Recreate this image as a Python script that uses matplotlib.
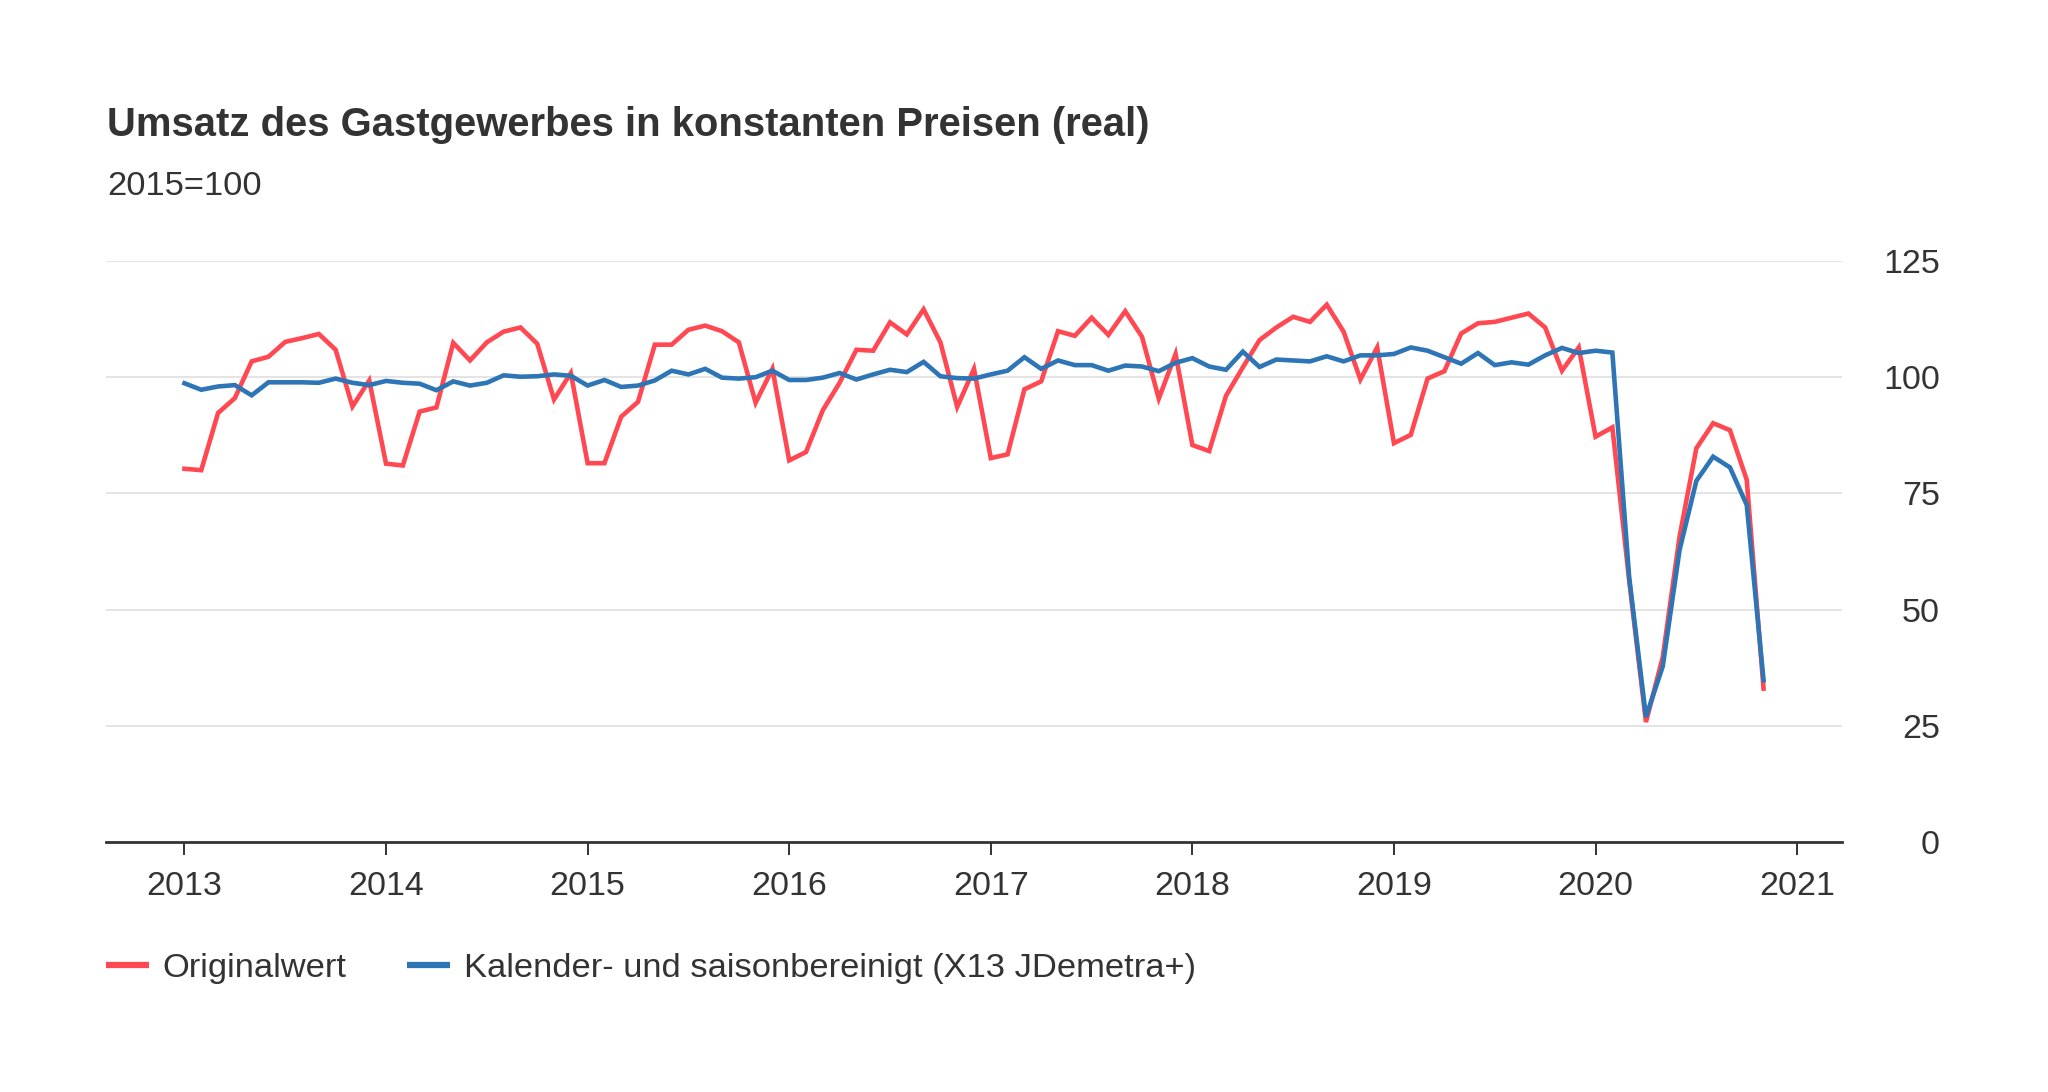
import matplotlib
matplotlib.use("Agg")
import matplotlib.pyplot as plt
import numpy as np

plt.rcParams['font.family'] = ['Liberation Sans', 'DejaVu Sans']

title = "Umsatz des Gastgewerbes in konstanten Preisen (real)"
subtitle = "2015=100"
series_names = ["Originalwert", "Kalender- und saisonbereinigt (X13 JDemetra+)"]
year_labels = ["2013", "2014", "2015", "2016", "2017", "2018", "2019", "2020", "2021"]
y_ticks = [0, 25, 50, 75, 100, 125]

# Monthly values, Jan 2013 .. Nov 2020
original = [
    80.3, 80.0, 92.3, 95.5, 103.4, 104.4, 107.6, 108.4, 109.3, 105.9, 93.7, 99.3,
    81.4, 81.0, 92.6, 93.5, 107.4, 103.6, 107.5, 109.8, 110.7, 107.2, 95.2, 100.9,
    81.5, 81.5, 91.5, 94.7, 107.0, 107.0, 110.2, 111.1, 109.9, 107.5, 94.5, 101.8,
    82.1, 83.9, 92.9, 98.8, 105.9, 105.7, 111.8, 109.2, 114.6, 107.5, 93.6, 101.8,
    82.6, 83.4, 97.4, 99.1, 109.9, 108.9, 112.8, 109.1, 114.2, 108.7, 95.4, 105.0,
    85.4, 84.1, 96.0, 102.1, 108.0, 110.7, 113.0, 111.9, 115.6, 109.8, 99.5, 106.4,
    85.8, 87.6, 99.7, 101.3, 109.4, 111.6, 111.9, 112.8, 113.7, 110.7, 101.4, 106.4,
    87.2, 89.2, 56.3, 25.8, 39.8, 65.7, 84.7, 90.1, 88.6, 77.9, 33.0,
]
adjusted = [
    98.7, 97.3, 98.0, 98.3, 96.1, 98.9, 98.9, 98.9, 98.8, 99.7, 98.8, 98.3,
    99.2, 98.8, 98.6, 97.2, 99.1, 98.2, 98.8, 100.4, 100.1, 100.2, 100.6, 100.3,
    98.2, 99.4, 97.9, 98.2, 99.3, 101.4, 100.6, 101.8, 99.9, 99.7, 100.0, 101.4,
    99.4, 99.4, 99.9, 100.9, 99.5, 100.6, 101.6, 101.1, 103.3, 100.2, 99.8, 99.7,
    100.6, 101.4, 104.3, 101.8, 103.6, 102.6, 102.6, 101.4, 102.5, 102.3, 101.3, 103.1,
    104.1, 102.3, 101.6, 105.5, 102.2, 103.8, 103.6, 103.4, 104.5, 103.4, 104.7, 104.7,
    105.0, 106.4, 105.7, 104.3, 102.9, 105.2, 102.6, 103.2, 102.7, 104.7, 106.3, 105.2,
    105.7, 105.3, 57.0, 26.9, 37.8, 62.8, 77.7, 82.9, 80.6, 72.5, 34.8,
]

RED = "#ff4851"
BLUE = "#2e75b6"
TXT = "#333333"
W, H = 2048, 1092

fig = plt.figure(figsize=(W / 100, H / 100), dpi=100)
ax = fig.add_axes([106 / W, 1 - 842 / H, (1842 - 106) / W, (842 - 261) / H])

months = np.arange(len(original))
ax.plot(months, original, color=RED, lw=3.3, solid_joinstyle='miter', label=series_names[0], zorder=3)
ax.plot(months, adjusted, color=BLUE, lw=3.3, solid_joinstyle='miter', label=series_names[1], zorder=4)

ax.set_xlim(-4.67, 98.67)
ax.set_ylim(0, 125)

ax.set_xticks(np.arange(len(year_labels)) * 12)
ax.set_xticklabels(year_labels)
ax.set_yticks(y_ticks)
ax.set_yticklabels([str(v) for v in y_ticks])

ax.yaxis.tick_right()
ax.tick_params(axis='y', length=0, pad=70.5, labelsize=24.5, labelcolor=TXT)
for lab in ax.get_yticklabels():
    lab.set_horizontalalignment('right')
ax.tick_params(axis='x', length=9.5, width=1.4, color=TXT, pad=11.5, labelsize=24.5, labelcolor=TXT)

ax.grid(axis='y', color='#dcdcdc', lw=1.1)
ax.set_axisbelow(True)
for s in ['left', 'right', 'top']:
    ax.spines[s].set_visible(False)
ax.spines['bottom'].set_color(TXT)
ax.spines['bottom'].set_linewidth(2.0)
ax.spines['bottom'].set_zorder(5)

fig.text(107 / W, 1 - 136 / H, title, fontsize=28.8, fontweight='bold', color=TXT, va='baseline', ha='left')
fig.text(107 / W, 1 - 195 / H, subtitle, fontsize=24.8, color=TXT, va='baseline', ha='left')

leg = fig.legend(loc='center left', bbox_to_anchor=(106 / W, 1 - 968 / H), ncol=2, frameon=False,
                 fontsize=24.8, handlelength=1.25, handletextpad=0.4, columnspacing=1.75,
                 borderpad=0, borderaxespad=0)
for t in leg.get_texts():
    t.set_color(TXT)
for l in leg.get_lines():
    l.set_linewidth(4.5)
    l.set_solid_capstyle('butt')

fig.savefig("out.png", dpi=100)
